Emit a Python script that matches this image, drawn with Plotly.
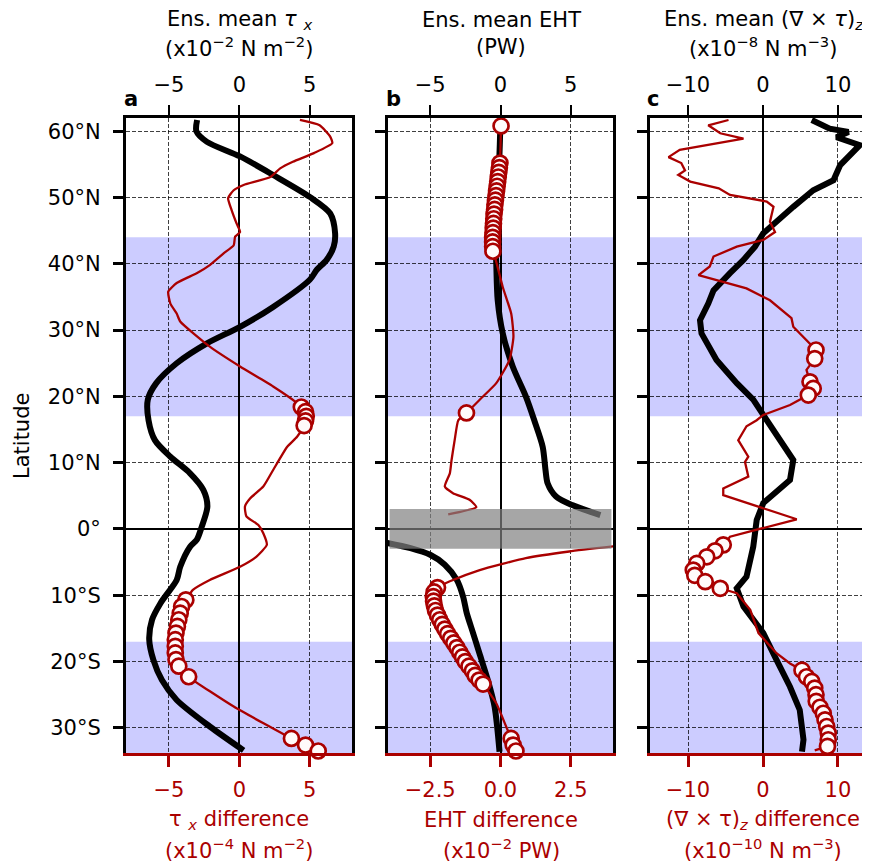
import plotly.graph_objects as go

FONT = "DejaVu Sans"
RED = "#aa0000"
BLUE = "#ccccff"
PAGE_OFF = 8          # default body margin of the html page
W, H = 870 - PAGE_OFF, 863 - PAGE_OFF
FS = 21

# ---------------- data ----------------
lat_ticks = [-30, -20, -10, 0, 10, 20, 30, 40, 50, 60]
lat_ticktext = ["30°S", "20°S", "10°S", "0°", "10°N", "20°N", "30°N", "40°N", "50°N", "60°N"]

# panel a: zonal wind stress
a_mean_lat = [61.7, 60.0, 58.4, 56.2, 53.4, 50.1, 47.6, 44.6, 42.6, 40.6, 39.1, 37.6, 33.5, 30.5, 28.0,
              25.0, 22.0, 19.5, 16.4, 13.4, 10.9, 8.4, 5.9, 3.4, 0.35, -1.66, -2.67, -5.7, -7.7, -11.2,
              -13.7, -16.7, -19.8, -22.8, -25.8, -29.8, -33.4]
a_mean = [-3.0, -3.05, -2.3, 0.05, 2.4, 5.0, 6.45, 6.8, 6.7, 6.2, 5.5, 5.0, 2.4, 0.05, -2.3,
          -4.45, -5.9, -6.5, -6.45, -6.0, -4.9, -3.5, -2.56, -2.27, -2.67, -3.03, -3.5, -4.2, -4.45, -5.6,
          -6.2, -6.4, -6.1, -5.5, -4.45, -2.1, 0.3]
a_diff_lat = [61.7, 60.9, 59.2, 58.2, 56.7, 55.4, 54.4, 53.1, 51.9, 51.1, 49.9, 48.1, 46.1, 44.8, 44.1,
              42.8, 41.6, 39.8, 38.6, 37.1, 35.8, 34.0, 32.5, 31.3, 27.5, 24.5, 21.5, 19.0, 18.4, 17.7,
              17.0, 16.3, 15.6, 13.9, 12.4, 8.9, 6.4, 4.6, 3.4, 1.9, 0.6, -0.65, -2.4, -4.2, -5.7,
              -7.7, -9.2, -10.7, -11.7, -12.7, -13.7, -14.7, -15.7, -16.7, -17.7, -18.7, -19.7, -20.7, -22.3,
              -26.8, -31.6, -32.6, -33.5]
a_diff = [4.3, 5.7, 6.45, 6.6, 5.3, 3.8, 2.9, 2.2, 0.3, -0.4, -0.8, -0.55, -0.2, 0.05, -0.3,
          -0.4, -1.1, -2.1, -3.0, -4.45, -5.05, -4.9, -4.45, -4.2, -2.1, 0.05, 2.4, 4.1, 4.4, 4.7,
          4.75, 4.7, 4.6, 4.1, 3.4, 2.4, 1.7, 0.76, 0.4, 0.5, 1.35, 1.7, 1.95, 1.2, 0.05,
          -2.1, -3.3, -3.8, -4.1, -4.2, -4.3, -4.4, -4.5, -4.55, -4.55, -4.55, -4.5, -4.3, -3.6,
          -0.4, 3.7, 4.7, 5.6]
a_sig_lat = [18.4, 17.7, 17.0, 16.3, 15.6, -10.7, -11.7, -12.7, -13.7, -14.7, -15.7, -16.7, -17.7,
             -18.7, -19.7, -20.7, -22.3, -31.6, -32.6, -33.5]

# panel b: Ekman heat transport
b_mean_lat = [61.5, 58.0, 55.0, 50.0, 45.0, 42.0, 40.0, 34.5, 29.5, 24.5, 20.0, 16.4, 12.4, 8.9, 6.9,
              4.9, 3.6, 2.1, None, -2.0, -2.9, -3.9, -5.4, -7.7, -10.2, -12.7, -15.7, -18.75, -22.8,
              -26.8, -33.6]
b_mean = [0.0, -0.05, -0.1, -0.2, -0.3, -0.33, -0.3, -0.2, 0.16, 0.87, 1.8, 2.4, 3.0, 3.2, 3.35,
          3.95, 5.1, 7.1, None, -8.3, -6.4, -5.0, -3.96, -3.1, -2.66, -2.4, -1.95, -1.5, -0.9,
          -0.42, -0.07]
b_diff_lat = [60.8, 55.2, 54.5, 53.8, 53.1, 52.4, 51.7, 51.0, 50.3, 49.6, 48.9, 48.2, 47.5, 46.8, 46.1,
              45.4, 44.7, 44.0, 43.3, 42.6, 41.9, 41.1, 36.5, 32.5, 29.0, 25.5, 22.0, 19.5, 17.5, 16.4,
              13.4, 10.4, 8.4, 6.4, 5.4, 4.4, 3.3, 2.2, None,
              -2.5, -3.4, -4.4, -6.2, -7.9, -8.85, -9.5, -10.2, -10.9, -11.6, -12.3, -13.0, -13.7, -14.4,
              -15.1, -15.8, -16.5, -17.2, -17.9, -18.6, -19.3, -20.0, -20.7, -21.4, -22.1, -22.8, -23.4,
              -26.3, -29.8, -31.6, -32.6, -33.5]
b_diff = [0.02, -0.02, -0.04, -0.06, -0.08, -0.1, -0.12, -0.14, -0.16, -0.18, -0.2, -0.21, -0.23, -0.24, -0.25,
          -0.26, -0.27, -0.28, -0.28, -0.28, -0.27, -0.2, 0.08, 0.38, 0.46, 0.32, -0.15, -0.74, -1.21, -1.5,
          -1.63, -1.74, -1.8, -1.98, -1.69, -1.1, -0.86, -1.86, None,
          4.3, 2.44, 0.9, -0.74, -1.8, -2.24, -2.36, -2.39, -2.38, -2.35, -2.31, -2.24, -2.16, -2.07,
          -1.98, -1.88, -1.77, -1.66, -1.55, -1.45, -1.35, -1.25, -1.12, -1.0, -0.9, -0.76, -0.62,
          -0.15, 0.2, 0.38, 0.45, 0.55]
b_sig_lat = [60.8, 55.2, 54.5, 53.8, 53.1, 52.4, 51.7, 51.0, 50.3, 49.6, 48.9, 48.2, 47.5, 46.8, 46.1,
             45.4, 44.7, 44.0, 43.3, 42.6, 41.9, 17.5,
             -8.85, -9.5, -10.2, -10.9, -11.6, -12.3, -13.0, -13.7, -14.4, -15.1, -15.8, -16.5, -17.2,
             -17.9, -18.6, -19.3, -20.0, -20.7, -21.4, -22.1, -22.8, -23.4, -31.6, -32.6, -33.5]

# panel c: wind stress curl
c_mean_lat = [61.7, 60.4, 59.9, 59.1, 57.9, 56.7, 54.9, 52.6, 51.1, 48.6, 46.9, 44.6, 42.6, 40.6, 38.6,
              36.0, 34.0, 31.5, 29.5, 25.5, 22.0, 19.5, 17.2, 16.4, 14.9, 13.4, 10.4, 7.4, 3.9, 1.35,
              -2.67, -7.2, -8.95, -11.7, -15.7, -19.75, -23.8, -27.3, -31.8, -33.6]
c_mean = [6.5, 8.9, 11.4, 9.8, 12.9, 11.8, 10.3, 9.4, 6.7, 4.04, 2.27, 0.04, -1.07, -2.6, -4.4,
          -6.6, -7.3, -8.4, -8.2, -6.2, -3.5, -1.3, 0.04, 0.5, 1.4, 2.27, 4.04, 3.6, 0.04, -0.84,
          -1.3, -2.2, -3.5, -2.6, 0.04, 1.8, 3.6, 4.9, 5.4, 5.2]
c_diff_lat = [61.7, 60.9, 59.7, 58.9, 57.2, 56.1, 55.2, 54.1, 53.4, 52.4, 51.4, 50.4, 49.4, 48.6, 46.35,
              44.8, 43.6, 42.6, 41.1, 39.6, 38.3, 37.3, 36.3, 34.5, 31.8, 30.5, 28.5, 27.0, 25.7, 24.0,
              22.2, 21.2, 20.2, 18.7, 17.2, 16.4, 15.5, 13.4, 10.9, 10.1, 7.9, 6.1, 5.1, 1.46, -1.16,
              -2.4, -3.3, -4.2, -5.2, -6.2, -7.0, -7.95, -8.95, -9.7, -12.2, -15.7, -18.75, -20.3,
              -21.3, -22.3, -23.0, -24.0, -25.0, -26.0, -26.9, -27.8, -28.8, -29.8, -30.8, -31.8, -32.8, -33.4]
c_diff = [-4.6, -7.3, -5.7, -2.6, -11.1, -12.6, -10.9, -10.4, -11.3, -9.7, -5.9, -4.4, 0.5, 1.4, 0.93,
          1.6, 0.04, -3.5, -6.6, -7.1, -8.6, -5.3, -2.2, 0.93, 3.8, 4.04, 5.8, 7.07, 6.9, 5.8,
          6.27, 6.7, 6.04, 3.6, 0.04, -0.84, -2.2, -3.3, -1.96, -2.4, -1.96, -5.3, -5.3, 4.5, -4.4,
          -5.3, -6.4, -7.5, -8.84, -9.3, -9.1, -7.7, -5.7, -3.5, -1.7, -0.6, 1.8, 3.6,
          5.2, 5.8, 6.5, 6.9, 7.07, 7.1, 7.6, 8.04, 8.27, 8.5, 8.7, 8.7, 8.6, 6.9]
c_sig_lat = [27.0, 25.7, 22.2, 21.2, 20.2, -2.4, -3.3, -4.2, -5.2, -6.2, -7.0, -7.95, -8.95,
             -21.3, -22.3, -23.0, -24.0, -25.0, -26.0, -26.9, -27.8, -28.8, -29.8, -30.8, -31.8, -32.8]

bands_lat = [(17, 44), (-34, -17)]
eq_band = (-3, 3)

top_ticks = [[-5, 0, 5], [-5, 0, 5], [-10, 0, 10]]
bot_ticks = [[-5, 0, 5], [-2.5, 0, 2.5], [-10, 0, 10]]

# ---------------- layout helpers (page pixel -> paper) ----------------
def px(x):
    return (x - PAGE_OFF) / W

def py(y):
    return 1 - (y - PAGE_OFF) / H

ydom = [py(753), py(118)]
yrange = [-33.8, 62.0]
xdoms = [[px(126), px(352)], [px(388), px(613)], [px(650), 1.0]]
top_ranges = [[-8.05, 8.0], [-8.0, 8.0], [-15.07, 14.27]]
bot_ranges = [[-8.05, 8.0], [-4.0, 4.0], [-15.07, 14.27]]
bot_formats = ["", ".1f", ""]
mean_shape = ["spline", "spline", "linear"]
diff_shape = ["spline", "spline", "linear"]

fig = go.Figure()

panels = [
    (a_mean_lat, a_mean, a_diff_lat, a_diff, a_sig_lat),
    (b_mean_lat, b_mean, b_diff_lat, b_diff, b_sig_lat),
    (c_mean_lat, c_mean, c_diff_lat, c_diff, c_sig_lat),
]

for i, (mlat, mval, dlat, dval, slat) in enumerate(panels):
    xt = "x" if i == 0 else f"x{2 * i + 1}"
    xb = f"x{2 * i + 2}"
    ya = "y" if i == 0 else f"y{i + 1}"
    fig.add_trace(go.Scatter(x=mval, y=mlat, mode="lines", xaxis=xt, yaxis=ya,
                             line=dict(color="black", width=6, shape=mean_shape[i], smoothing=0.8),
                             connectgaps=False, hoverinfo="skip", showlegend=False))
    fig.add_trace(go.Scatter(x=dval, y=dlat, mode="lines", xaxis=xb, yaxis=ya,
                             line=dict(color=RED, width=2.3, shape=diff_shape[i], smoothing=0.5),
                             connectgaps=False, hoverinfo="skip", showlegend=False))
    sig = set(slat)
    mx = [v for l, v in zip(dlat, dval) if l is not None and l in sig]
    my = [l for l in dlat if l is not None and l in sig]
    fig.add_trace(go.Scatter(x=mx, y=my, mode="markers", xaxis=xb, yaxis=ya,
                             marker=dict(size=15, color="#fffafa", line=dict(color=RED, width=2.7)),
                             cliponaxis=False, hoverinfo="skip", showlegend=False))

layout = dict(
    width=W, height=H,
    margin=dict(l=0, r=0, t=0, b=0),
    paper_bgcolor="white", plot_bgcolor="rgba(0,0,0,0)",
    font=dict(family=FONT, size=FS, color="black"),
    showlegend=False,
)

grid_col = "rgba(0,0,0,0.75)"
for i in range(3):
    tkey = "xaxis" if i == 0 else f"xaxis{2 * i + 1}"
    bkey = f"xaxis{2 * i + 2}"
    ykey = "yaxis" if i == 0 else f"yaxis{i + 1}"
    tname = "x" if i == 0 else f"x{2 * i + 1}"
    yname = "y" if i == 0 else f"y{i + 1}"
    layout[tkey] = dict(
        domain=xdoms[i], range=top_ranges[i], side="top", anchor=yname,
        tickmode="array", tickvals=top_ticks[i],
        ticks="outside", ticklen=10, tickwidth=2, tickcolor="black",
        tickfont=dict(size=FS, color="black"), ticklabelstandoff=5,
        showline=True, linecolor="black", linewidth=3, mirror=False,
        showgrid=True, gridcolor=grid_col, gridwidth=1, griddash="4px,2px",
        zeroline=True, zerolinecolor="black", zerolinewidth=1.6,
        fixedrange=True,
    )
    layout[bkey] = dict(
        overlaying=tname, range=bot_ranges[i], side="bottom", anchor=yname,
        tickmode="array", tickvals=bot_ticks[i], tickformat=bot_formats[i],
        ticks="outside", ticklen=11, tickwidth=2.5, tickcolor=RED,
        tickfont=dict(size=FS, color=RED), ticklabelstandoff=5,
        showline=True, linecolor=RED, linewidth=3,
        showgrid=False, zeroline=False, fixedrange=True,
    )
    layout[ykey] = dict(
        domain=ydom, range=yrange, anchor=tname, side="left",
        tickmode="array", tickvals=lat_ticks, ticktext=lat_ticktext,
        showticklabels=(i == 0),
        ticks="outside", ticklen=10, tickwidth=2.5, tickcolor="black",
        tickfont=dict(size=FS, color="black"), ticklabelstandoff=8,
        showline=True, linecolor="black", linewidth=3, mirror=(i < 2),
        showgrid=True, gridcolor=grid_col, gridwidth=1, griddash="4px,2px",
        zeroline=True, zerolinecolor="black", zerolinewidth=1.6,
        fixedrange=True,
    )

shapes = []
for i in range(3):
    tname = "x" if i == 0 else f"x{2 * i + 1}"
    yname = "y" if i == 0 else f"y{i + 1}"
    for (y0, y1) in bands_lat:
        shapes.append(dict(type="rect", xref=f"{tname} domain", yref=yname,
                           x0=0, x1=1, y0=y0, y1=y1, fillcolor=BLUE,
                           line=dict(width=0), layer="below"))
shapes.append(dict(type="rect", xref="x3 domain", yref="y2", x0=0.007, x1=0.993,
                   y0=eq_band[0], y1=eq_band[1], fillcolor="rgba(128,128,128,0.7)",
                   line=dict(width=0), layer="above"))
layout["shapes"] = shapes

top_titles = [
    ("Ens. mean <i>τ</i> <sub><i>x</i></sub>", "(x10<sup>−2</sup> N m<sup>−2</sup>)", 239),
    ("Ens. mean EHT", "(PW)", 501),
    ("Ens. mean (∇ × <i>τ</i>)<sub><i>z</i></sub>", "(x10<sup>−8</sup> N m<sup>−3</sup>)", 763),
]
bot_titles = [
    ("τ <sub><i>x</i></sub> difference", "(x10<sup>−4</sup> N m<sup>−2</sup>)", 239),
    ("EHT difference", "(x10<sup>−2</sup> PW)", 501),
    ("(∇ × τ)<sub><i>z</i></sub> difference", "(x10<sup>−10</sup> N m<sup>−3</sup>)", 763),
]
ann = []
def add_text(text, x, y, color="black", xanchor="center", angle=0):
    ann.append(dict(text=text, x=px(x), y=py(y), xref="paper", yref="paper",
                    xanchor=xanchor, yanchor="middle", showarrow=False, textangle=angle,
                    font=dict(size=FS, color=color)))

for l1, l2, cx in top_titles:
    add_text(l1, cx, 20)
    add_text(l2, cx, 47)
for l1, l2, cx in bot_titles:
    add_text(l1, cx, 820, RED)
    add_text(l2, cx, 849, RED)
for lab, lx in [("a", 122), ("b", 384), ("c", 645)]:
    add_text(f"<b>{lab}</b>", lx, 99, xanchor="left")
add_text("Latitude", 22, 436, angle=-90)
layout["annotations"] = ann

fig.update_layout(**layout)
fig.write_html("out.html")
